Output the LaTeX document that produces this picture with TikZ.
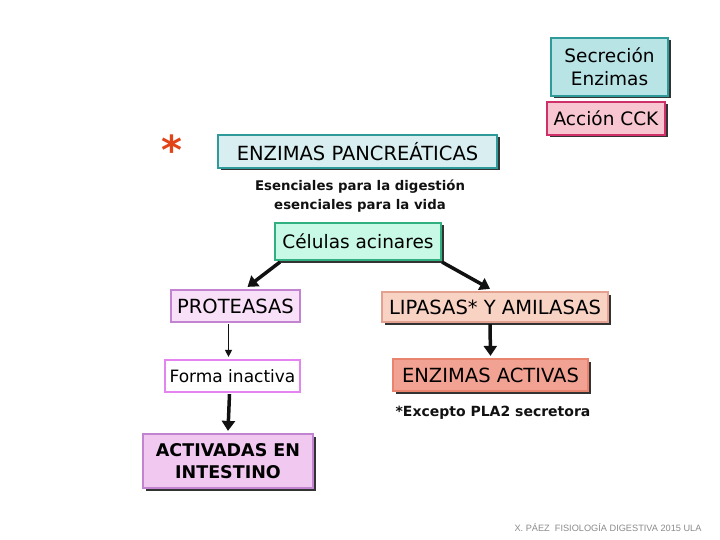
\documentclass[tikz,border=0pt]{standalone}
\usepackage{fontspec}
\setmainfont{DejaVu Sans}
\newfontfamily\footfont{Liberation Sans}
\usepackage{xcolor}
\usetikzlibrary{arrows.meta,positioning,calc,shadows}
\definecolor{ink}{HTML}{111111}
\definecolor{tealline}{HTML}{2E9A9A}
\definecolor{tealfill}{HTML}{B8E4E6}
\definecolor{palecyan}{HTML}{D8EEF0}
\definecolor{crimson}{HTML}{D0306A}
\definecolor{pinkfill}{HTML}{F8C6D0}
\definecolor{mintline}{HTML}{30B080}
\definecolor{mintfill}{HTML}{C8F8E6}
\definecolor{violetline}{HTML}{C284D0}
\definecolor{lilacfill}{HTML}{F8E0F8}
\definecolor{orchid}{HTML}{E484F0}
\definecolor{peachline}{HTML}{E4A090}
\definecolor{peachfill}{HTML}{F8D2C2}
\definecolor{salmonline}{HTML}{E8846E}
\definecolor{salmonfill}{HTML}{F2A292}
\definecolor{pinklilac}{HTML}{F0C8F0}
\definecolor{starred}{HTML}{E04418}
\definecolor{footgray}{HTML}{8A8A8A}
\tikzset{
  box/.style={
    draw=tealline,
    line width=2.2pt,
    fill=tealfill,
    align=center,
    inner sep=2pt,
    font=\fontsize{18.5}{23}\selectfont
  },
  caps/.style={font=\fontsize{19.5}{23}\selectfont},
  shade box/.style={
    drop shadow={shadow xshift=2.5pt, shadow yshift=-2.5pt, fill=black!80, opacity=1}
  },
  tealbox/.style={box, shade box},
  cckbox/.style={box, shade box, draw=crimson, fill=pinkfill},
  titlebox/.style={box, caps, shade box, fill=palecyan, draw=tealline},
  cellbox/.style={box, shade box, draw=mintline, fill=mintfill},
  protbox/.style={box, caps, draw=violetline, fill=lilacfill},
  lipbox/.style={box, caps, shade box, draw=peachline, fill=peachfill},
  inactbox/.style={box, draw=orchid, fill=white, font=\fontsize{17}{21}\selectfont},
  activebox/.style={box, caps, shade box, draw=salmonline, fill=salmonfill},
  intestbox/.style={box, shade box, draw=violetline, fill=pinklilac,
    font=\bfseries\fontsize{17.5}{22}\selectfont},
  note/.style={font=\bfseries\fontsize{13.3}{19}\selectfont, align=center, text=ink},
  arrow/.style={
    -{Triangle[length=10pt, width=13pt]},
    draw=ink,
    line width=3.5pt
  },
  thin arrow/.style={
    -{Triangle[length=7pt, width=7pt]},
    draw=ink,
    line width=1.3pt
  }
}

\begin{document}
\begin{tikzpicture}[x=1pt, y=-1pt]
\useasboundingbox (0,0) rectangle (720,540);

% ---------------------------------------------------------------------------
% 1. Header boxes
% ---------------------------------------------------------------------------
\node[tealbox, minimum width=117pt, minimum height=58pt] (secrecion) at (609.5,67) {Secreción\\Enzimas};
\node[cckbox, minimum width=118pt, minimum height=33pt] (cck) at (606,118.5) {Acción CCK};

\node[text=starred, font=\bfseries\fontsize{40}{40}\selectfont] (star) at (172,150) {*};
\node[titlebox, minimum width=279pt, minimum height=33pt] (pancreaticas) at (357.5,151.5) {ENZIMAS PANCREÁTICAS};
\node[note] (esenciales) at (360,196.5) {Esenciales para la digestión\\esenciales para la vida};

\node[cellbox, minimum width=166pt, minimum height=37pt] (celulas) at (358,241.5) {Células acinares};

% ---------------------------------------------------------------------------
% 2. Two branches
% ---------------------------------------------------------------------------
\node[protbox, minimum width=129pt, minimum height=32pt] (proteasas) at (235.5,306) {PROTEASAS};
\node[lipbox, minimum width=226pt, minimum height=30pt] (lipasas) at (495,307) {LIPASAS* Y AMILASAS};

\node[inactbox, minimum width=135pt, minimum height=32pt] (inactiva) at (232.5,376) {Forma inactiva};
\node[activebox, minimum width=195pt, minimum height=32pt] (activas) at (490.5,375) {ENZIMAS ACTIVAS};
\node[note, font=\bfseries\fontsize{14}{18}\selectfont] (excepto) at (493,413) {*Excepto PLA2 secretora};

\node[intestbox, minimum width=170pt, minimum height=54pt] (intestino) at (228,461) {ACTIVADAS EN\\INTESTINO};

\draw[arrow] ($(celulas.south west)+(6,1)$) -- ($(proteasas.north)+(12,-2)$);
\draw[arrow] ($(celulas.south east)+(0,1)$) -- ($(lipasas.north)+(-5,-2)$);
\draw[thin arrow] ($(proteasas.south)+(-7,1)$) -- ($(inactiva.north)+(-4,-2)$);
\draw[arrow] ($(lipasas.south)+(-5,1)$) -- ($(activas.north)+(0,-2)$);
\draw[arrow] ($(inactiva.south)+(-3,1)$) -- ($(intestino.north)+(0,-2)$);

% Footer credit.
\node[text=footgray, font=\footfont\fontsize{9.2}{11}\selectfont] (credito) at (608,528) {X. PÁEZ \ FISIOLOGÍA DIGESTIVA 2015 ULA};

\end{tikzpicture}
\end{document}
